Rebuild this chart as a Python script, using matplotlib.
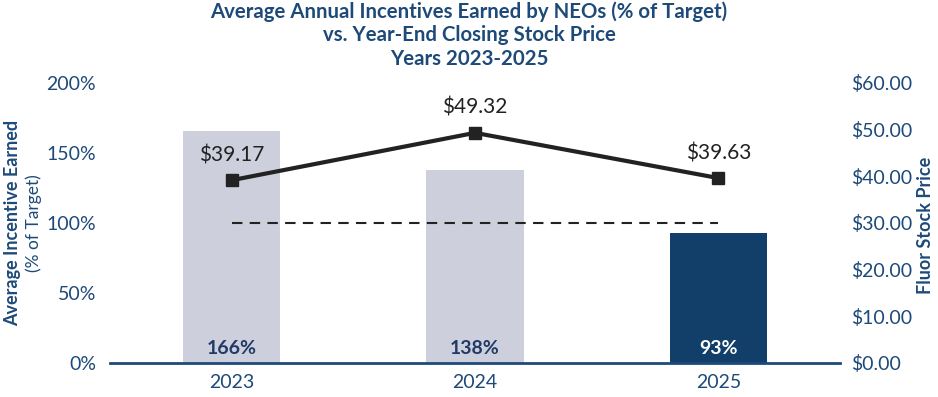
import matplotlib
matplotlib.use("Agg")
import matplotlib.pyplot as plt
import numpy as np

years = ["2023", "2024", "2025"]
incentive_pct = [166, 138, 93]
stock_price = [39.17, 49.32, 39.63]
target_pct = [100, 100, 100]
bar_labels = ["166%", "138%", "93%"]
price_labels = ["$39.17", "$49.32", "$39.63"]
left_ticks = [0, 50, 100, 150, 200]
left_tick_labels = ["0%", "50%", "100%", "150%", "200%"]
right_ticks = [0, 10, 20, 30, 40, 50, 60]
right_tick_labels = ["$0.00", "$10.00", "$20.00", "$30.00", "$40.00", "$50.00", "$60.00"]

NAVY = "#1d4a78"
DARK = "#123f69"
LIGHT = "#cdd0dc"
plt.rcParams['font.family'] = ['Lato', 'DejaVu Sans']

fig = plt.figure(figsize=(9.38, 3.97), dpi=100)
ax = fig.add_axes([110/938, 1-363/397, 730/938, 280/397])
x = np.arange(len(years))
colors = [LIGHT, LIGHT, DARK]
ax.bar(x, incentive_pct, width=0.4, color=colors, zorder=1)
ax.plot([x[0], x[-1]], [target_pct[0], target_pct[-1]], linestyle=(0, (5, 3.5)), color="#222222", lw=1.5, zorder=2)
ax.set_xlim(-0.5, 2.5)
ax.set_ylim(0, 200)
ax.set_yticks(left_ticks)
ax.set_yticklabels(left_tick_labels)
ax.set_xticks(x)
ax.set_xticklabels(years)
ax.tick_params(length=0, labelsize=14, labelcolor=NAVY, pad=8)
ax.tick_params(axis='y', pad=10)
for s in ["top", "left", "right"]:
    ax.spines[s].set_visible(False)
ax.spines["bottom"].set_color(NAVY)
ax.spines["bottom"].set_linewidth(2)
ax.spines["bottom"].set_zorder(5)

for xi, lab, c in zip(x, bar_labels, ["#1f3a66", "#1f3a66", "white"]):
    ax.text(xi, 4, lab, ha="center", va="bottom", fontsize=14, fontweight="bold", color=c, zorder=4)

ax2 = ax.twinx()
ax2.set_ylim(0, 60)
ax2.plot(x, stock_price, color="#222222", lw=3, marker="s", markersize=9, zorder=3)
ax2.set_yticks(right_ticks)
ax2.set_yticklabels(right_tick_labels)
ax2.tick_params(length=0, labelsize=14, labelcolor=NAVY, pad=8)
for s in ["top", "left", "right", "bottom"]:
    ax2.spines[s].set_visible(False)
for xi, p, lab in zip(x, stock_price, price_labels):
    ax2.text(xi, p + 3.2, lab, ha="center", va="bottom", fontsize=15, color="#222222")

fig.text(0.5, 0.997, "Average Annual Incentives Earned by NEOs (% of Target)\nvs. Year-End Closing Stock Price\nYears 2023-2025",
         ha="center", va="top", fontsize=14.7, fontweight="bold", color=NAVY, linespacing=1.22)
fig.text(13/938, 1-223/397, "Average Incentive Earned", rotation=90, ha="center", va="center",
         fontsize=13, fontweight="bold", color=NAVY)
fig.text(34/938, 1-223/397, "(% of Target)", rotation=90, ha="center", va="center",
         fontsize=12.5, color=NAVY)
fig.text(925/938, 1-225/397, "Fluor Stock Price", rotation=90, ha="center", va="center",
         fontsize=13, fontweight="bold", color=NAVY)

fig.savefig("out.png", dpi=100)
